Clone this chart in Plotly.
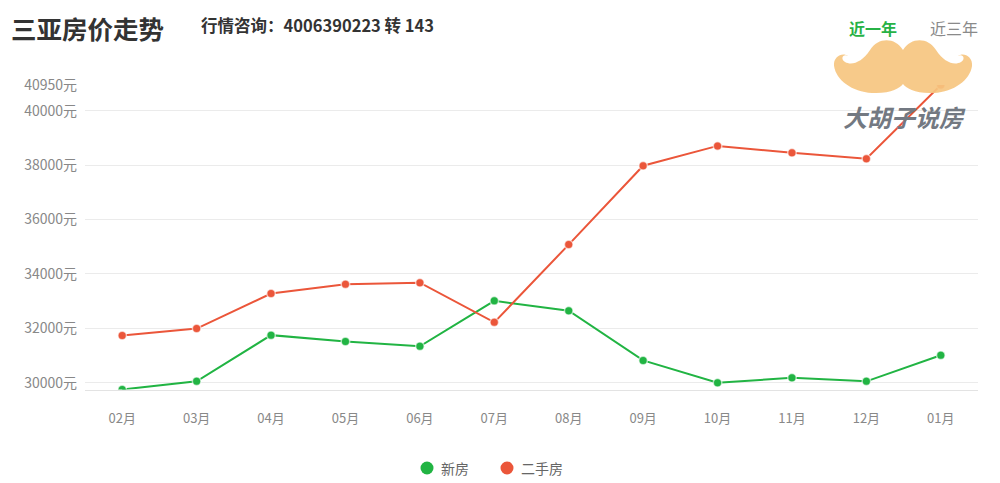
import re
import plotly.graph_objects as go

# page body has an 8px margin, so the figure is drawn 8px in from the corner
OFF = 8
W, H = 1000 - OFF, 483 - OFF

months = ["02月", "03月", "04月", "05月", "06月", "07月",
          "08月", "09月", "10月", "11月", "12月", "01月"]
new_price = [29750, 30050, 31750, 31520, 31340, 33010,
             32650, 30820, 30000, 30180, 30050, 31010]
resale_price = [31740, 31990, 33280, 33620, 33680, 32220,
                35080, 37980, 38710, 38460, 38240, 40950]
y_ticks = [30000, 32000, 34000, 36000, 38000, 40000, 40950]

GREEN = "#21b443"
RED = "#eb563a"
FONT = "Noto Sans CJK SC"


def px(x, y):
    """screen pixel -> paper coords (margins are zero)."""
    return (x - OFF) / W, 1 - (y - OFF) / H


def path_to_paper(path):
    """Convert an 'x y' pixel path into paper coordinates."""
    def conv(m):
        a, b = px(float(m.group(1)), float(m.group(2)))
        return f"{a:.4f},{b:.4f}"
    return re.sub(r"(-?\d+\.?\d*) (-?\d+\.?\d*)", conv, path)


fig = go.Figure()

for name, vals, color in [("新房", new_price, GREEN), ("二手房", resale_price, RED)]:
    fig.add_trace(go.Scatter(
        x=months, y=vals, name=name, mode="lines+markers",
        line=dict(color=color, width=2),
        marker=dict(color=color, size=8.5, line=dict(color="rgba(255,255,255,0.6)", width=1.5)),
        showlegend=False,
    ))

# watermark logo
mustache = (
    "M 903 50 C 895 37 878 37 870 50 C 862 62 852 66 845 62 "
    "C 840 59 843 53 848 56 C 843 52 833 56 834 66 "
    "C 836 80 852 92 872 93 C 890 94 900 88 903 84 "
    "C 906 88 916 94 934 93 C 954 92 970 80 972 66 "
    "C 973 56 963 52 958 56 C 963 53 966 59 961 62 "
    "C 954 66 944 62 936 50 C 928 37 911 37 903 50 Z"
)
fig.add_shape(type="path", path=path_to_paper(mustache), xref="paper", yref="paper",
              fillcolor="#f6c680", line=dict(width=0), opacity=0.92, layer="above")

# legend dots
for cx, color in [(427, GREEN), (507, RED)]:
    x0, y0 = px(cx - 6.5, 468 - 6.5)
    x1, y1 = px(cx + 6.5, 468 + 6.5)
    fig.add_shape(type="circle", x0=x0, y0=y0, x1=x1, y1=y1, xref="paper", yref="paper",
                  fillcolor=color, line=dict(width=0))

annotations = [
    dict(text="三亚房价走势", pos=(10, 8), xanchor="left", yanchor="top", borderpad=0,
         font=dict(size=25.5, color="#333333", family=FONT, weight="bold")),
    dict(text="行情咨询：4006390223 转 143", pos=(199, 25), xanchor="left",
         font=dict(size=16.5, color="#333333", family=FONT, weight="bold")),
    dict(text="近一年", pos=(873, 28), xanchor="center",
         font=dict(size=16, color="#27b246", family=FONT, weight="bold")),
    dict(text="近三年", pos=(954, 28), xanchor="center",
         font=dict(size=16, color="#8a8a8a", family=FONT)),
    dict(text="<i>大胡子说房</i>", pos=(904, 117), xanchor="center",
         font=dict(size=24, color="#737982", family=FONT, weight="bold")),
    dict(text="新房", pos=(439, 468), xanchor="left",
         font=dict(size=14, color="#666666", family=FONT)),
    dict(text="二手房", pos=(519, 468), xanchor="left",
         font=dict(size=14, color="#666666", family=FONT)),
]
for a in annotations:
    x, y = px(*a.pop("pos"))
    a.setdefault("yanchor", "middle")
    a.update(x=x, y=y, xref="paper", yref="paper", showarrow=False)

fig.update_layout(
    width=W, height=H,
    margin=dict(l=0, r=0, t=0, b=0, autoexpand=False),
    paper_bgcolor="white", plot_bgcolor="white",
    font=dict(family=FONT, color="#888888", size=13),
    annotations=annotations,
    showlegend=False,
    xaxis=dict(
        domain=[(85 - OFF) / W, (978 - OFF) / W], type="category", range=[-0.5, 11.5],
        showgrid=False, showline=True, linecolor="#e3e3e3", linewidth=1,
        ticks="", ticklabelstandoff=17, tickfont=dict(size=13, color="#888888"),
        zeroline=False, fixedrange=True,
    ),
    yaxis=dict(
        domain=[1 - (389.5 - OFF) / H, 1 - (85 - OFF) / H], range=[29750, 40950],
        tickmode="array", tickvals=y_ticks, ticktext=[f"{v}元" for v in y_ticks],
        showgrid=True, gridcolor="#ebebeb",
        zeroline=False, ticks="", ticklabelstandoff=7,
        tickfont=dict(size=14, color="#888888"), fixedrange=True,
    ),
)

fig.write_html("out.html")
